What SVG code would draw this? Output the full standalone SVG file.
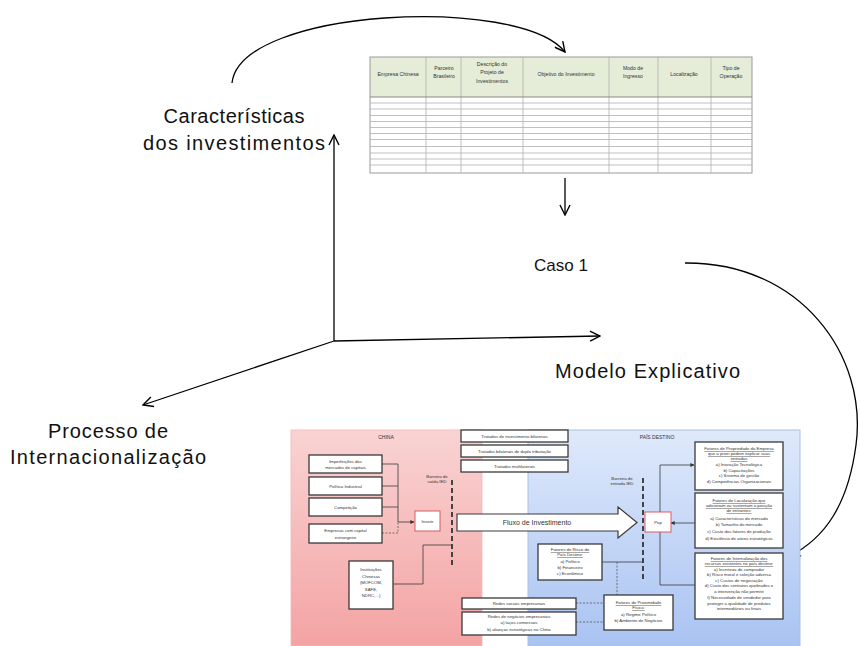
<svg xmlns="http://www.w3.org/2000/svg" width="860" height="646" viewBox="0 0 860 646">
<defs>
<marker id="open" viewBox="0 0 12 12" refX="11" refY="6" markerWidth="12" markerHeight="12" markerUnits="userSpaceOnUse" orient="auto">
<path d="M1,1 L11,6 L1,11" fill="none" stroke="#000" stroke-width="1.4"/>
</marker>
<marker id="small" viewBox="0 0 6 6" refX="5.5" refY="3" markerWidth="4" markerHeight="4" markerUnits="userSpaceOnUse" orient="auto">
<path d="M0,0 L6,3 L0,6 Z" fill="#333"/>
</marker>
<linearGradient id="pink" x1="0" y1="0" x2="0" y2="1">
<stop offset="0" stop-color="#f9d3d3"/>
<stop offset="1" stop-color="#f4a3a3"/>
</linearGradient>
<linearGradient id="blue" x1="0" y1="0" x2="0" y2="1">
<stop offset="0" stop-color="#dfe9fb"/>
<stop offset="1" stop-color="#a9c3f2"/>
</linearGradient>
<style>
.big{font-family:"Liberation Sans",Arial,sans-serif;font-size:20px;fill:#111}
.th{font-family:"Liberation Sans",Arial,sans-serif;font-size:5.2px;fill:#333;text-anchor:middle}
.s{font-family:"Liberation Sans",Arial,sans-serif;font-size:4.3px;fill:#333;text-anchor:middle}
.u{text-decoration:underline}
.axis{fill:none;stroke:#000;stroke-width:1.3}
.box{fill:#fff;stroke:#3a3a3a;stroke-width:1.3}
.rbox{fill:#fff;stroke:#d85c5c;stroke-width:1}
.ln{fill:none;stroke:#3a3a3a;stroke-width:0.8}
.dl{fill:none;stroke:#555;stroke-width:0.8;stroke-dasharray:2,1.5}
.bar{fill:none;stroke:#333;stroke-width:1.8;stroke-dasharray:5,3}
.grid{stroke:#b0b0b0;stroke-width:0.8}
</style>
</defs>
<rect width="860" height="646" fill="#fff"/>

<g id="connectors">
<path class="axis" d="M232,83 C240,8 520,-5 565,52" marker-end="url(#open)"/>
<path class="axis" d="M565,178 L565,215" marker-end="url(#open)"/>
<path class="axis" d="M334,341 L334,135" marker-end="url(#open)"/>
<path class="axis" d="M334,341 L600,336" marker-end="url(#open)"/>
<path class="axis" d="M334,341 L143,405" marker-end="url(#open)"/>
<path class="axis" d="M685,263 C800,262 868,355 856,445 C848,505 825,538 790,556" marker-end="url(#open)"/>
</g>

<g id="caracteristicas">
<text class="big" x="234" y="123" text-anchor="middle" textLength="141" lengthAdjust="spacing">Características</text>
<text class="big" x="234" y="150" text-anchor="middle" textLength="182" lengthAdjust="spacing">dos investimentos</text>
</g>

<g id="tabela">
<rect x="370" y="57" width="382" height="40" fill="#e5edd8"/>
<rect x="370" y="57" width="382" height="116" fill="none" stroke="#999" stroke-width="1"/>
<g class="grid">
<line x1="426" y1="57" x2="426" y2="173"/>
<line x1="461" y1="57" x2="461" y2="173"/>
<line x1="523" y1="57" x2="523" y2="173"/>
<line x1="609" y1="57" x2="609" y2="173"/>
<line x1="658" y1="57" x2="658" y2="173"/>
<line x1="711" y1="57" x2="711" y2="173"/>
<line x1="370" y1="97" x2="752" y2="97" stroke="#888" stroke-width="1.2"/>
<line x1="370" y1="103" x2="752" y2="103"/>
<line x1="370" y1="109" x2="752" y2="109"/>
<line x1="370" y1="115.5" x2="752" y2="115.5"/>
<line x1="370" y1="121.5" x2="752" y2="121.5"/>
<line x1="370" y1="127.5" x2="752" y2="127.5"/>
<line x1="370" y1="133.5" x2="752" y2="133.5"/>
<line x1="370" y1="139.5" x2="752" y2="139.5"/>
<line x1="370" y1="146.5" x2="752" y2="146.5"/>
<line x1="370" y1="153" x2="752" y2="153"/>
<line x1="370" y1="159" x2="752" y2="159"/>
<line x1="370" y1="165" x2="752" y2="165"/>
</g>
<text class="th" x="398" y="76">Empresa Chinesa</text>
<text class="th" x="444" y="70">Parceiro</text>
<text class="th" x="444" y="78">Brasileiro</text>
<text class="th" x="492" y="66">Descrição do</text>
<text class="th" x="492" y="74">Projeto de</text>
<text class="th" x="492" y="83">Investimentos</text>
<text class="th" x="566" y="76">Objetivo do Investimento</text>
<text class="th" x="633" y="70">Modo de</text>
<text class="th" x="633" y="78">Ingresso</text>
<text class="th" x="684" y="76">Localização</text>
<text class="th" x="731" y="70">Tipo de</text>
<text class="th" x="731" y="78">Operação</text>
</g>

<g id="caso1">
<text class="big" x="561" y="271" text-anchor="middle" style="font-size:17px">Caso 1</text>
</g>

<g id="modelo">
<text class="big" x="555" y="378" textLength="185" lengthAdjust="spacing">Modelo Explicativo</text>
</g>

<g id="processo">
<text class="big" x="108" y="438" text-anchor="middle" textLength="120" lengthAdjust="spacing">Processo de</text>
<text class="big" x="108" y="464" text-anchor="middle" textLength="196" lengthAdjust="spacing">Internacionalização</text>
</g>

<g id="modelo-ied">
<rect x="291" y="430" width="191" height="216" fill="url(#pink)" stroke="#f2b8b8" stroke-width="0.8"/>
<rect x="528" y="430" width="272" height="216" fill="url(#blue)" stroke="#a9bfe4" stroke-width="1"/>
<text class="s" x="386" y="439" style="font-size:5px">CHINA</text>
<text class="s" x="657" y="439" style="font-size:5px">PAÍS DESTINO</text>

<g id="tratados">
<rect class="box" x="461" y="430" width="107" height="12"/>
<text class="s" x="514.5" y="437.5">Tratados de investimento bilaterais</text>
<rect class="box" x="461" y="445" width="107" height="12"/>
<text class="s" x="514.5" y="452.5">Tratados bilaterais de dupla tributação</text>
<rect class="box" x="461" y="460" width="107" height="12"/>
<text class="s" x="514.5" y="467.5">Tratados multilaterais</text>
</g>

<g id="fatores-china">
<path class="ln" d="M382,464 H398 M382,486 H398 M382,507 H398 M398,464 V522 H414" marker-end="url(#small)"/>
<path class="dl" d="M382,533 H398 V522"/>
<path class="ln" d="M393,584 H423 V545 H452"/>
<rect class="box" x="309" y="455" width="73" height="18"/>
<text class="s" x="345.5" y="463">Imperfeições dos</text>
<text class="s" x="345.5" y="469">mercados de capitais</text>
<rect class="box" x="309" y="477" width="73" height="18"/>
<text class="s" x="345.5" y="487.5">Política Industrial</text>
<rect class="box" x="309" y="498" width="73" height="18"/>
<text class="s" x="345.5" y="508.5">Competição</text>
<rect class="box" x="309" y="524" width="73" height="19"/>
<text class="s" x="345.5" y="532">Empresas com capital</text>
<text class="s" x="345.5" y="538.5">estrangeiro</text>
<rect class="box" x="349" y="561" width="44" height="48"/>
<text class="s" x="371" y="571">Instituições</text>
<text class="s" x="371" y="577.5">Chinesas</text>
<text class="s" x="371" y="584">(MOFCOM,</text>
<text class="s" x="371" y="590.5">SAFE,</text>
<text class="s" x="371" y="597">NDRC,...)</text>
<rect class="rbox" x="415" y="511" width="25" height="20"/>
<text class="s" x="427.5" y="522.5">Inserir</text>
<text class="s" x="437" y="478">Barreira de</text>
<text class="s" x="437" y="483">saída IED</text>
<path class="bar" d="M452,480 V566"/>
</g>

<g id="fluxo">
<polygon points="457,514 618,514 618,507 637,522.5 618,538 618,531 457,531" fill="#fff" stroke="#3a3a3a" stroke-width="1.2"/>
<text class="s" x="537" y="525" style="font-size:7px">Fluxo de Investimento</text>
</g>

<g id="fatores-destino">
<text class="s" x="622" y="480">Barreira de</text>
<text class="s" x="622" y="485">entrada IED</text>
<path class="bar" d="M643,478 V582"/>
<path class="ln" d="M660,512 V465 H694" marker-end="url(#small)"/>
<path class="ln" d="M695,523 H671" marker-end="url(#small)"/>
<path class="ln" d="M660,532 V585 H695"/>
<path class="ln" d="M602,562 H643"/>
<path class="dl" d="M617,562 V595"/>
<path class="dl" d="M576,603 H604 M576,622 H604"/>
<rect class="rbox" x="645" y="512" width="26" height="20"/>
<text class="s" x="658" y="523.5">Pop</text>

<rect class="box" x="695" y="442" width="88" height="48"/>
<text class="s u" x="739" y="450">Fatores de Propriedade da Empresa</text>
<text class="s u" x="739" y="455">que a priori podem explicar suas</text>
<text class="s u" x="739" y="460">entradas</text>
<text class="s" x="739" y="466">a) Inovação Tecnológica</text>
<text class="s" x="739" y="471.5">b) Capacitações</text>
<text class="s" x="739" y="477">c) Sistema de gestão</text>
<text class="s" x="739" y="482.5">d) Competências Organizacionais</text>

<rect class="box" x="695" y="493" width="88" height="55"/>
<text class="s u" x="739" y="502">Fatores de Localização que</text>
<text class="s u" x="739" y="507">adicionam ou sustentam a posição</text>
<text class="s u" x="739" y="512">de entrantes:</text>
<text class="s" x="739" y="520">a) Características do mercado</text>
<text class="s" x="739" y="526">b) Tamanho do mercado</text>
<text class="s" x="739" y="533">c) Custo dos fatores de produção</text>
<text class="s" x="739" y="540">d) Existência de ativos estratégicos</text>

<rect class="box" x="695" y="553" width="88" height="66"/>
<text class="s u" x="739" y="560">Fatores de Internalização dos</text>
<text class="s u" x="739" y="565">recursos existentes no país destino:</text>
<text class="s" x="739" y="570.5">a) Incerteza do comprador</text>
<text class="s" x="739" y="576">b) Risco moral e seleção adversa</text>
<text class="s" x="739" y="581.5">c) Custos de negociação</text>
<text class="s" x="739" y="587">d) Custo dos contratos quebrados e</text>
<text class="s" x="739" y="592.5">a intervenção não permite</text>
<text class="s" x="739" y="599">f) Necessidade de vendedor para</text>
<text class="s" x="739" y="604.5">proteger a qualidade de produtos</text>
<text class="s" x="739" y="610">intermediários ou finais</text>

<rect class="box" x="538" y="544" width="64" height="36"/>
<text class="s u" x="570" y="551">Fatores de Risco do</text>
<text class="s u" x="570" y="556">País Destino:</text>
<text class="s" x="570" y="563">a) Político</text>
<text class="s" x="570" y="569">b) Financeiro</text>
<text class="s" x="570" y="575">c) Econômico</text>

<rect class="box" x="604" y="595" width="69" height="35"/>
<text class="s u" x="638.5" y="604">Fatores de Proximidade</text>
<text class="s u" x="638.5" y="609">Física:</text>
<text class="s" x="638.5" y="616">a) Regime Político</text>
<text class="s" x="638.5" y="622">b) Ambiente de Negócios</text>
</g>

<g id="redes">
<rect class="box" x="462" y="598" width="114" height="11"/>
<text class="s" x="519" y="605">Redes sociais empresariais</text>
<rect class="box" x="462" y="612" width="114" height="23"/>
<text class="s" x="519" y="618">Redes de negócios empresariais</text>
<text class="s" x="519" y="624">a) laços comerciais</text>
<text class="s" x="519" y="630.5">b) alianças estratégicas na China</text>
</g>
</g>
</svg>
